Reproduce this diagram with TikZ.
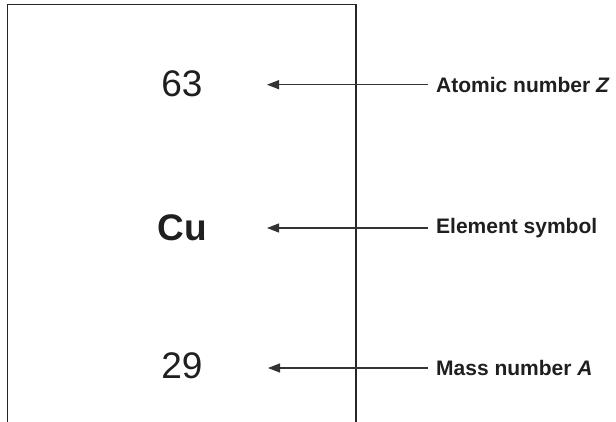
\documentclass[tikz,border=0pt]{standalone}
\usepackage{fontspec}
\setmainfont{Liberation Sans}
\usetikzlibrary{arrows.meta}
\begin{document}
\begin{tikzpicture}[x=1pt,y=-1pt,
  boxline/.style={line width=1.4pt,draw=black!85},
  pointer/.style={line width=1.1pt,draw=black!80,-{Triangle[length=12pt,width=9pt]}},
  bignum/.style={font=\fontsize{37}{40}\selectfont,inner sep=0pt,text=black!88},
  lbl/.style={font=\fontsize{21}{24}\selectfont\bfseries,inner sep=0pt,anchor=west,text=black!88}]
\useasboundingbox (0,0) rectangle (616,422);
\draw[boxline] (7.5,423) -- (7.5,4.5) -- (356,4.5) -- (356,423);
\node[bignum] (n63) at (182,84) {63};
\node[bignum,font=\fontsize{37}{40}\selectfont\bfseries] (cu) at (182,228) {Cu};
\node[bignum] (n29) at (182,366) {29};
\node[lbl] (lz) at (436,84.7) {Atomic number \textit{Z}};
\node[lbl] (le) at (436,228) {Element symbol};
\node[lbl] (la) at (436,368) {Mass number \textit{A}};
\coordinate (tz) at (267,84.7);
\coordinate (te) at (267,228);
\coordinate (ta) at (268,368);
\draw[pointer] ([xshift=-8pt]lz.west) -- (tz);
\draw[pointer] ([xshift=-8pt]le.west) -- (te);
\draw[pointer] ([xshift=-8pt]la.west) -- (ta);
\end{tikzpicture}
\end{document}
